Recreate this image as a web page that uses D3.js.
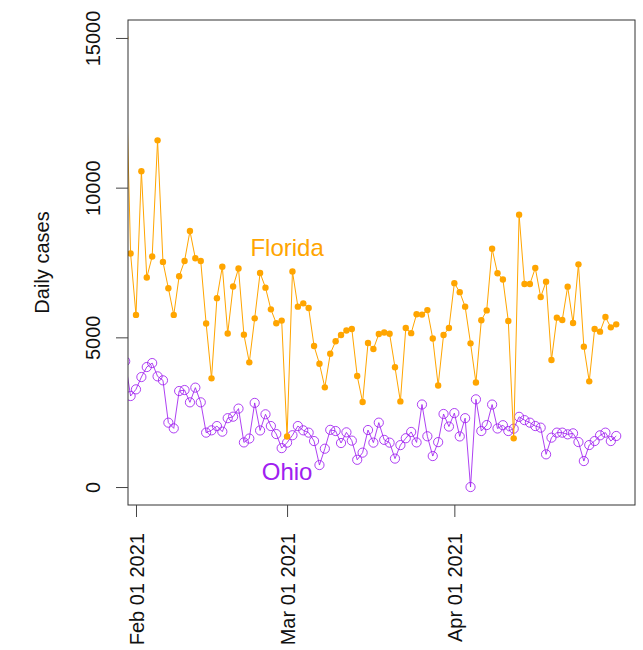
<!DOCTYPE html>
<html>
<head>
<meta charset="utf-8">
<script src="https://cdn.jsdelivr.net/npm/d3@7"></script>
<style>
    body { margin: 0; background: #fff; }
    text { font-family: "Liberation Sans", Arial, sans-serif; }
</style>
</head>
<body>
<div id="c1"></div>
<script>
// daily values, one per day starting Jan 30 2021
const startDate = "2021-01-30";
const florida = [15000,
    7800, 5750, 10550, 7000, 7700, 11580, 7520, 6640, 5750, 7040,
    7550, 8550, 7640, 7550, 5460, 3630, 6310, 7360, 5130, 6700,
    7300, 5090, 4165, 5635, 7150, 6660, 5935, 5470, 5560, 1690,
    7200, 6025, 6135, 5980, 4710, 4120, 3330, 4450, 4870, 5080,
    5230, 5280, 3710, 2840, 4810, 4610, 5110, 5160, 5120, 4000,
    2860, 5310, 5140, 5770, 5760, 5910, 4960, 3390, 5080, 5310,
    6810, 6510, 6025, 4800, 3490, 5570, 5900, 7960, 7140, 6930,
    5545, 1627, 9098, 6780, 6780, 7315, 6346, 6860, 4242, 5658,
    5578, 6693, 5478, 7438, 4689, 3530, 5277, 5190, 5678, 5334,
    5434];
const ohio = [4200,
    3040, 3263, 3674, 4008, 4141, 3697, 3564, 2150, 1960, 3207,
    3240, 2829, 3320, 2829, 1817, 1894, 2037, 1850, 2300, 2350,
    2620, 1490, 1620, 2810, 1890, 2430, 2037, 1770, 1300, 1483,
    1730, 2037, 1894, 1817, 1536, 735, 1280, 1910, 1871, 1470,
    1827, 1550, 910, 1149, 1904, 1483, 2151, 1575, 1483, 950,
    1400, 1630, 1840, 1490, 2757, 1695, 1035, 1500, 2440, 2020,
    2470, 1690, 2300, 0, 2929, 1871, 2070, 2755, 1955, 2065,
    1871, 1950, 2345, 2235, 2150, 2037, 1984, 1092, 1650, 1817,
    1817, 1760, 1794, 1503, 868, 1403, 1536, 1727, 1817, 1536,
    1705];
const xLimits = ["2021-02-03", "2021-05-01"];
const yLimits = [0, 15000];
const yTicks = [0, 5000, 10000, 15000];
const xTicks = ["2021-02-01", "2021-03-01", "2021-04-01"];
const labels = [
    {name: "Florida", date: "2021-03-01", value: 8000, color: "#FFA500"},
    {name: "Ohio", date: "2021-03-01", value: 500, color: "#A020F0"}
];

function c1() {
    const overall_width = 643
    const overall_height = 650
    const box = {l: 128, r: 635, t: 20, b: 505}
    const parse = d3.utcParse("%Y-%m-%d")
    const fmt = d3.utcFormat("%b %d %Y")

    let svg = d3.select("#c1")
        .append("svg")
        .attr("width", overall_width)
        .attr("height", overall_height);
    svg.append("rect")
        .attr("width", "100%")
        .attr("height", "100%")
        .attr("fill", "white");

    const start = parse(startDate)
    const dates = florida.map((d, i) => d3.utcDay.offset(start, i))

    // R style 4% padding on both axes
    let x0 = parse(xLimits[0]), x1 = parse(xLimits[1])
    let padX = (x1 - x0) * 0.04
    let scaleX = d3.scaleUtc()
        .domain([new Date(+x0 - padX), new Date(+x1 + padX)])
        .range([box.l, box.r]);
    let padY = (yLimits[1] - yLimits[0]) * 0.04
    let scaleY = d3.scaleLinear()
        .domain([yLimits[0] - padY, yLimits[1] + padY])
        .range([box.b, box.t]);

    svg.append("clipPath").attr("id", "clip")
        .append("rect")
        .attr("x", box.l).attr("y", box.t)
        .attr("width", box.r - box.l).attr("height", box.b - box.t);

    let graph = svg.append("g").attr("clip-path", "url(#clip)");

    let line = d3.line()
        .x((d, i) => scaleX(dates[i]))
        .y(d => scaleY(d));

    //Ohio first, open circles
    graph.append("path")
        .datum(ohio)
        .attr("d", line)
        .attr("fill", "none")
        .attr("stroke", "#A020F0")
        .attr("stroke-opacity", 0.85)
        .attr("stroke-width", 1);
    graph.selectAll(".oh")
        .data(ohio)
        .enter()
        .append("circle")
        .attr("class", "oh")
        .attr("cx", (d, i) => scaleX(dates[i]))
        .attr("cy", d => scaleY(d))
        .attr("r", 4.6)
        .attr("fill", "none")
        .attr("stroke", "#A020F0")
        .attr("stroke-opacity", 0.85)
        .attr("stroke-width", 1);

    //Florida on top, small filled dots
    graph.append("path")
        .datum(florida)
        .attr("d", line)
        .attr("fill", "none")
        .attr("stroke", "#FFA500")
        .attr("stroke-width", 1);
    graph.selectAll(".fl")
        .data(florida)
        .enter()
        .append("circle")
        .attr("class", "fl")
        .attr("cx", (d, i) => scaleX(dates[i]))
        .attr("cy", d => scaleY(d))
        .attr("r", 3.2)
        .attr("fill", "#FFA500");

    //Box
    svg.append("rect")
        .attr("x", box.l).attr("y", box.t)
        .attr("width", box.r - box.l).attr("height", box.b - box.t)
        .attr("fill", "none")
        .attr("stroke", "#333")
        .attr("stroke-width", 1);

    //Y axis
    let axisY = d3.axisLeft(scaleY).tickValues(yTicks).tickSize(12).tickFormat(d3.format("d"));
    let gy = svg.append("g")
        .attr("transform", `translate(${box.l},0)`)
        .call(axisY);
    gy.select(".domain").remove();
    gy.selectAll(".tick line").attr("stroke", "#444");
    gy.selectAll(".tick text")
        .attr("x", 0).attr("y", 0)
        .attr("dy", 0)
        .attr("transform", "translate(-28,0) rotate(-90)")
        .attr("text-anchor", "middle")
        .attr("fill", "#111")
        .style("font-size", "20px");

    //X axis
    let axisX = d3.axisBottom(scaleX).tickValues(xTicks.map(parse)).tickSize(12).tickFormat(fmt);
    let gx = svg.append("g")
        .attr("transform", `translate(0,${box.b})`)
        .call(axisX);
    gx.select(".domain").remove();
    gx.selectAll(".tick line").attr("stroke", "#444");
    gx.selectAll(".tick text")
        .attr("x", 0).attr("y", 0)
        .attr("dy", "0.36em")
        .attr("transform", "translate(0,28) rotate(-90)")
        .attr("text-anchor", "end")
        .attr("fill", "#111")
        .style("font-size", "20px");

    //Y title
    svg.append("text")
        .attr("transform", `translate(49,${(box.t + box.b) / 2}) rotate(-90)`)
        .attr("text-anchor", "middle")
        .attr("fill", "#111")
        .style("font-size", "20px")
        .text("Daily cases");

    //series labels
    svg.selectAll(".lab")
        .data(labels)
        .enter()
        .append("text")
        .attr("x", d => scaleX(parse(d.date)))
        .attr("y", d => scaleY(d.value))
        .attr("dy", "0.35em")
        .attr("text-anchor", "middle")
        .attr("fill", d => d.color)
        .style("font-size", "24px")
        .text(d => d.name);
}

c1();
</script>
</body>
</html>
